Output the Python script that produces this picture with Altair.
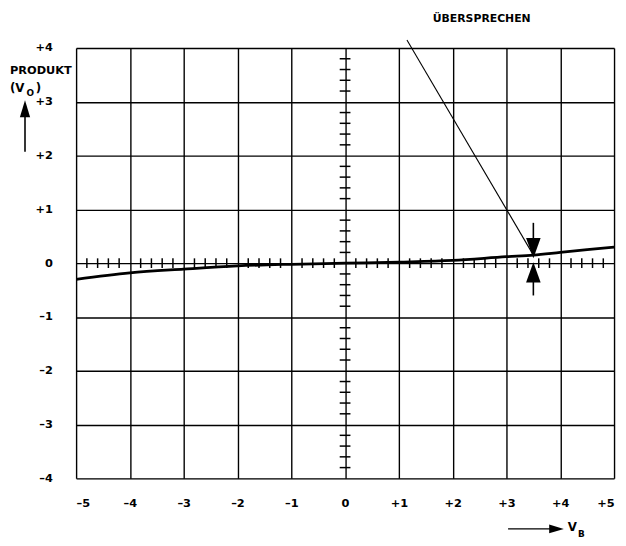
import altair as alt
import pandas as pd
import numpy as np

# curve (V_B -> product V_O)
curve_x = [-5, -4, -3, -2, -1, 0, 1, 2, 3, 3.5, 4, 5]
curve_y = [-0.30, -0.18, -0.11, -0.05, -0.02, 0.0, 0.02, 0.05, 0.12, 0.15, 0.20, 0.30]

x_ticks = [-5, -4, -3, -2, -1, 0, 1, 2, 3, 4, 5]
y_ticks = [-4, -3, -2, -1, 0, 1, 2, 3, 4]
minor = [round(v, 1) for v in np.arange(-4.8, 4.81, 0.2) if abs(round(v, 1) - round(v)) > 1e-6]
minor_y = [v for v in minor if abs(v) < 4]

# annotation geometry (data units)
leader_x = [1.15, 3.5]
leader_y = [4.15, 0.15]
shaft_up = [0.75, 0.40]       # shaft above curve
shaft_dn = [-0.30, -0.60]     # shaft below axis

FONT = "DejaVu Sans"

curve = pd.DataFrame({"x": curve_x, "y": curve_y})
xs = alt.Scale(domain=[-5, 5], nice=False, zero=False)
ys = alt.Scale(domain=[-4, 4], nice=False, zero=False)

lab_x = "datum.value > 0 ? '+' + datum.value : (datum.value < 0 ? '\u2013' + abs(datum.value) : '0')"

axis_common = dict(grid=True, gridColor="black", gridWidth=1.4, gridOpacity=1, domain=False, ticks=False,
                   labelExpr=lab_x, title=None, labelFont=FONT, labelFontSize=11.5,
                   labelFontWeight="bold", labelColor="black")

line = alt.Chart(curve).mark_line(color="black", strokeWidth=2.8, interpolate="monotone").encode(
    x=alt.X("x:Q", scale=xs, axis=alt.Axis(values=x_ticks, labelPadding=20, **axis_common)),
    y=alt.Y("y:Q", scale=ys, axis=alt.Axis(values=y_ticks, labelPadding=24, **axis_common)),
)

mx = pd.DataFrame({"x": minor, "y": [-0.09] * len(minor), "y2": [0.09] * len(minor)})
minor_x_marks = alt.Chart(mx).mark_rule(color="black", strokeWidth=1.5).encode(
    x="x:Q", y="y:Q", y2="y2:Q")
my = pd.DataFrame({"y": minor_y, "x": [-0.1] * len(minor_y), "x2": [0.1] * len(minor_y)})
minor_y_marks = alt.Chart(my).mark_rule(color="black", strokeWidth=1.5).encode(
    y="y:Q", x="x:Q", x2="x2:Q")

leader = alt.Chart(pd.DataFrame({"x": [leader_x[0]], "x2": [leader_x[1]],
                                 "y": [leader_y[0]], "y2": [leader_y[1]]})).mark_rule(
    color="black", strokeWidth=1.1).encode(x="x:Q", x2="x2:Q", y="y:Q", y2="y2:Q")

shafts = alt.Chart(pd.DataFrame({"x": [3.5, 3.5, -5.95], "y": [shaft_up[0], shaft_dn[0], 2.07],
                                 "y2": [shaft_up[1], shaft_dn[1], 2.78]})).mark_rule(
    color="black", strokeWidth=1.6).encode(x="x:Q", y="y:Q", y2="y2:Q")

head_down = alt.Chart(pd.DataFrame({"x": [3.5], "y": [0.28]})).mark_point(
    shape="M-0.72,-1L0.72,-1L0,1Z", size=420, filled=True, color="black", opacity=1).encode(x="x:Q", y="y:Q")
head_up = alt.Chart(pd.DataFrame({"x": [3.5], "y": [-0.17]})).mark_point(
    shape="M-0.72,1L0.72,1L0,-1Z", size=420, filled=True, color="black", opacity=1).encode(x="x:Q", y="y:Q")
side_head = alt.Chart(pd.DataFrame({"x": [-5.95], "y": [2.87]})).mark_point(
    shape="M-0.6,1L0.6,1L0,-1Z", size=300, filled=True, color="black", opacity=1).encode(x="x:Q", y="y:Q")

vb_shaft = alt.Chart(pd.DataFrame({"x": [3.03], "x2": [3.9], "y": [-4.94]})).mark_rule(
    color="black", strokeWidth=1.3).encode(x="x:Q", x2="x2:Q", y="y:Q")
vb_head = alt.Chart(pd.DataFrame({"x": [3.93], "y": [-4.94]})).mark_point(
    shape="M-1,-0.6L1,0L-1,0.6Z", size=220, filled=True, color="black", opacity=1).encode(x="x:Q", y="y:Q")

texts = pd.DataFrame({
    "x": [2.54, -6.23, -6.23, -5.92, -5.75, 4.14, 4.33],
    "y": [4.54, 3.58, 3.25, 3.17, 3.25, -4.90, -5.03],
    "t": ["ÜBERSPRECHEN", "PRODUKT", "(V", "O", ")", "V", "B"],
    "s": [11, 11.5, 12, 9, 12, 12, 9],
    "a": ["center", "left", "left", "left", "left", "left", "left"],
})
txt_layers = []
for _, r in texts.iterrows():
    txt_layers.append(
        alt.Chart(pd.DataFrame({"x": [r.x], "y": [r.y], "t": [r.t]})).mark_text(
            font=FONT, fontWeight="bold", fontSize=float(r.s), align=r.a, baseline="middle", color="black"
        ).encode(x="x:Q", y="y:Q", text="t:N")
    )

chart = alt.layer(line, minor_x_marks, minor_y_marks, leader, shafts, head_down, head_up, side_head,
                  vb_shaft, vb_head, *txt_layers).properties(
    width=545, height=436,
    autosize=alt.AutoSizeParams(type="none"),
    padding={"left": 69, "top": 37, "right": 4, "bottom": 65},
).configure_view(stroke="black", strokeWidth=1.6).configure(background="white")

chart.save("out.html", embed_options={"renderer": "svg", "actions": False})
